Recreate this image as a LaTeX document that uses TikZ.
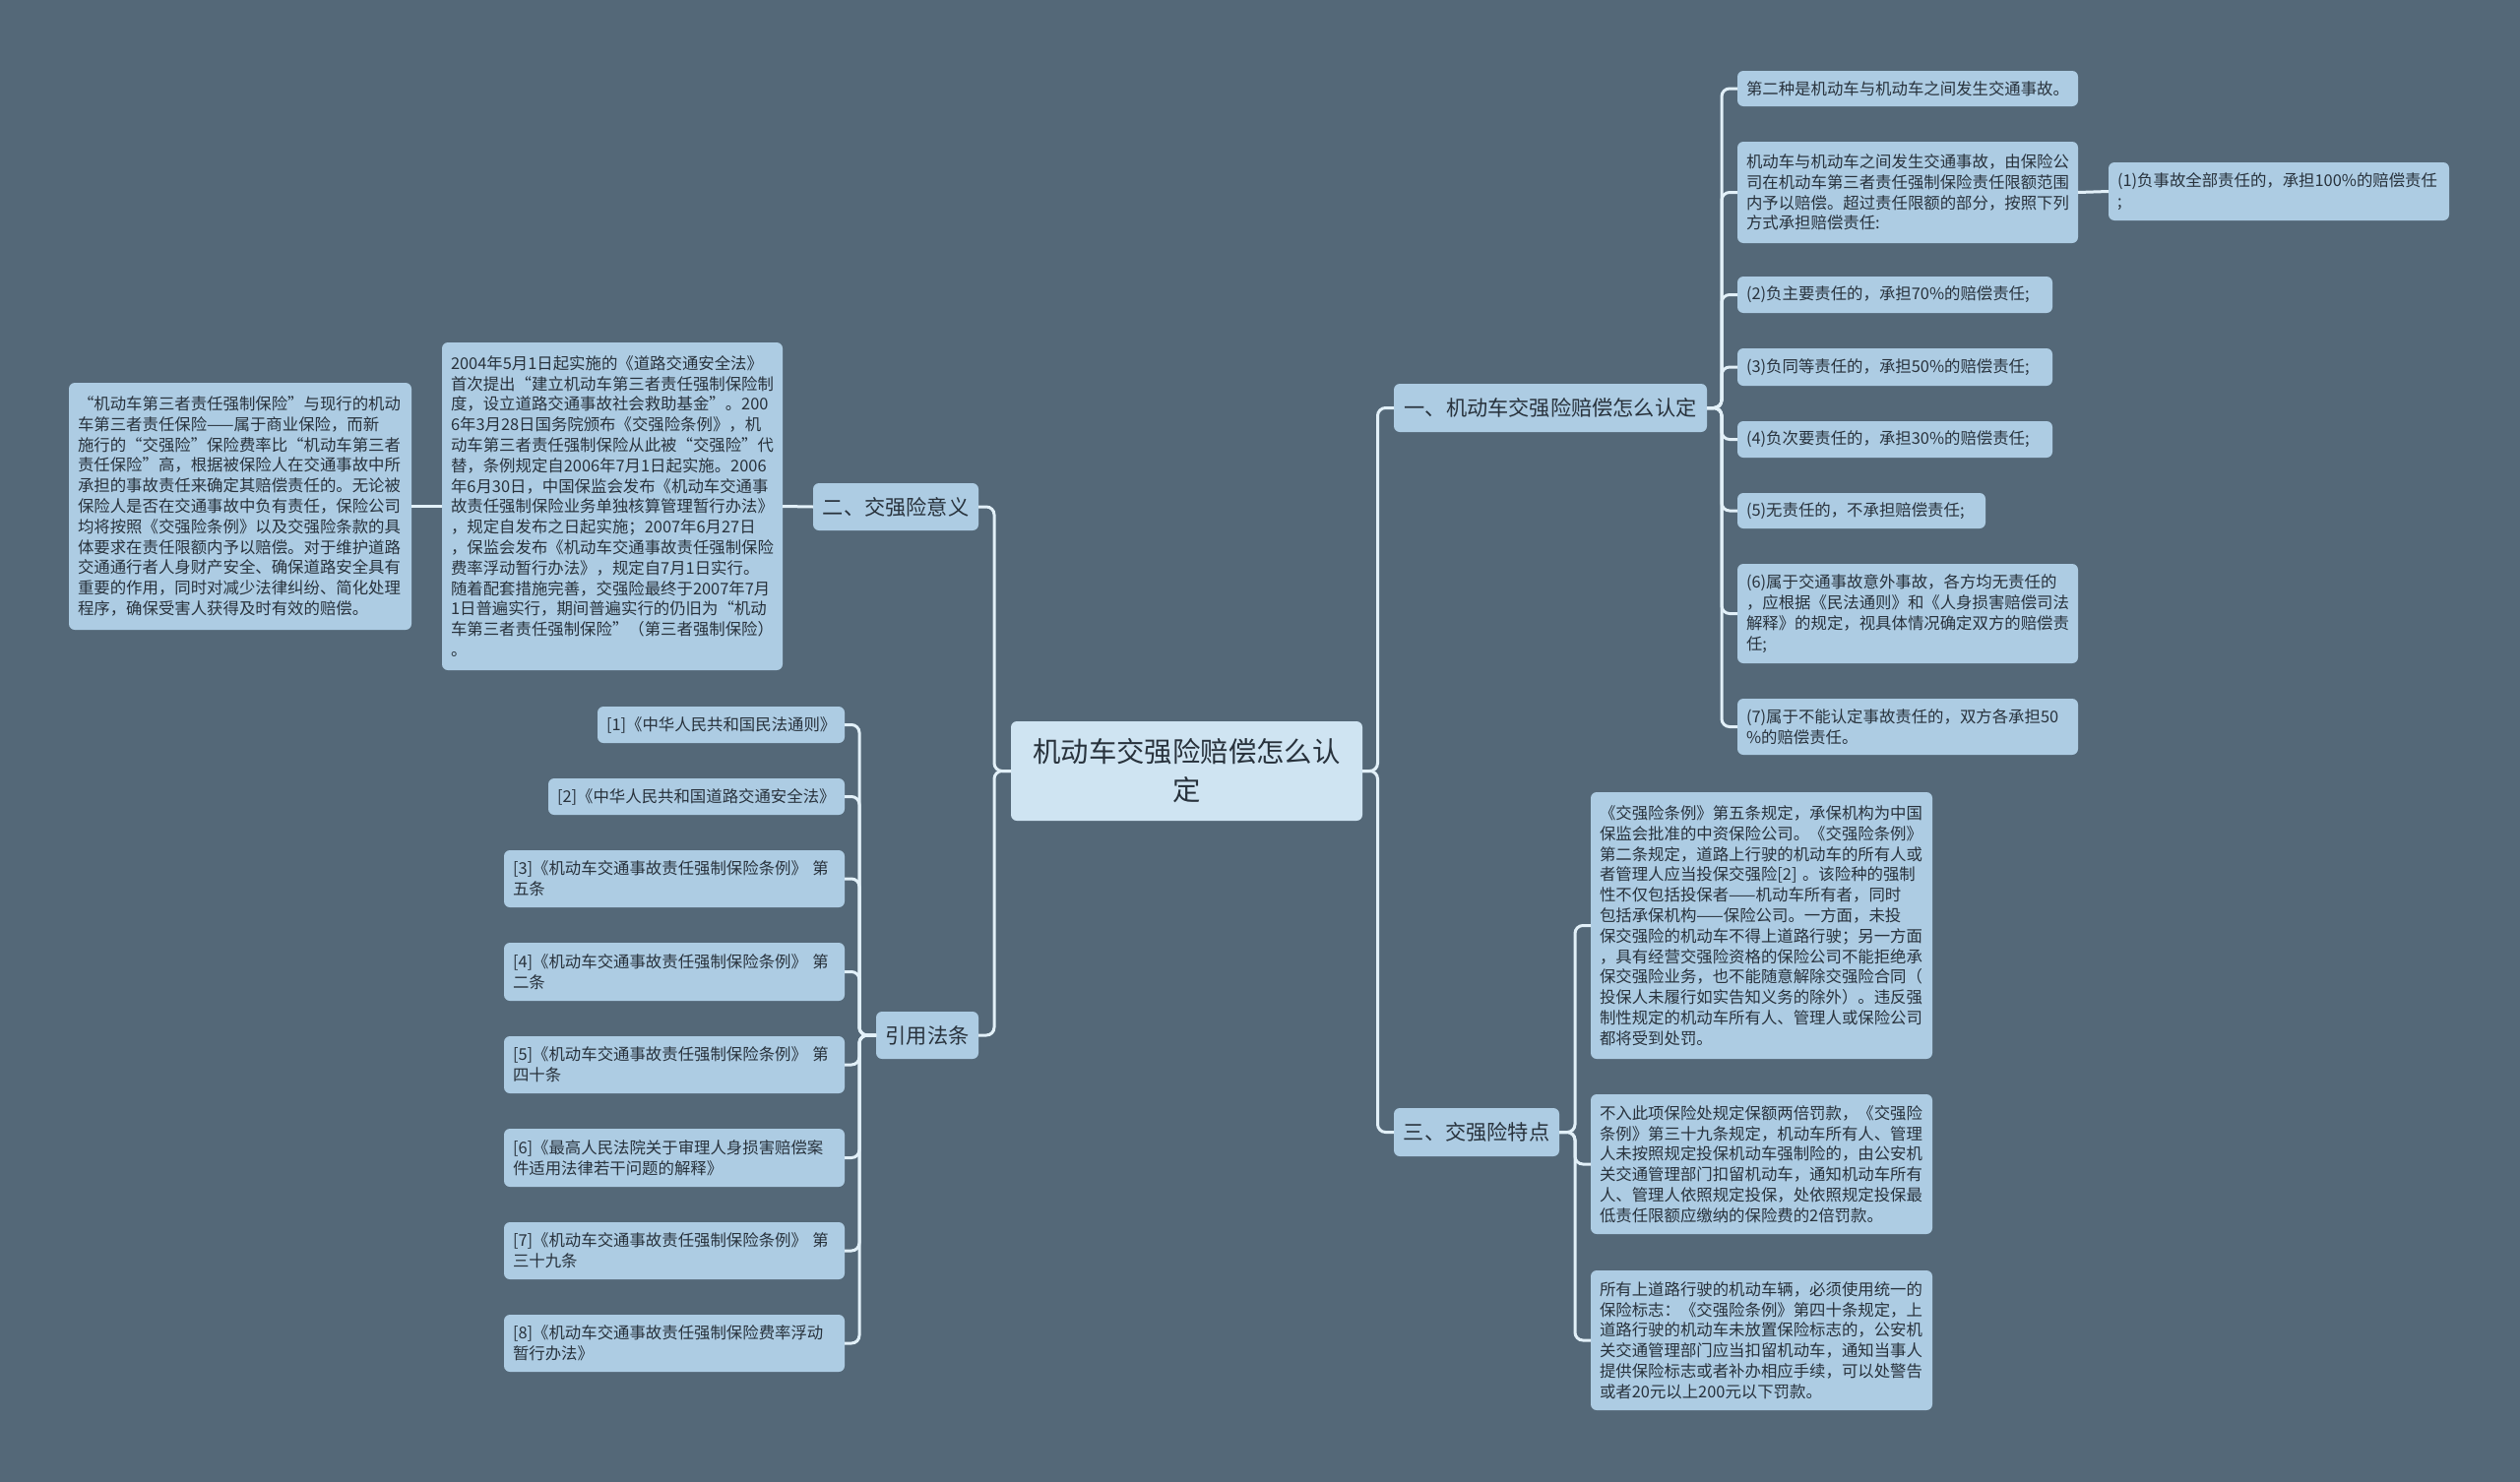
\documentclass[tikz,border=0pt]{standalone}
\usepackage{fontspec}
\setmainfont{Noto Sans CJK SC}
\definecolor{bgc}{RGB}{84,104,120}
\definecolor{leafc}{RGB}{173,204,227}
\definecolor{rootc}{RGB}{207,228,242}
\definecolor{linec}{RGB}{226,240,248}
\definecolor{txtc}{RGB}{40,50,60}
\begin{document}
\begin{tikzpicture}[x=0.5pt,y=-0.5pt,
  conn/.style={draw=linec,line width=1.5pt,rounded corners=4pt},
  box/.style={fill=leafc,rounded corners=3pt,outer sep=0pt,text=txtc,anchor=north west},
  leaf/.style={box,inner xsep=4.5pt,inner ysep=2pt,align=left,font=\fontsize{8.2}{10.4}\selectfont},
  branch/.style={box,inner sep=0pt,align=center,font=\fontsize{10.6}{13}\selectfont},
  rootbox/.style={box,fill=rootc,inner sep=0pt,align=center,text width=160pt,font=\fontsize{14.2}{19.5}\selectfont}]
\useasboundingbox (0,0) rectangle (2560,1505);
\fill[bgc] (-20,-20) rectangle (2580,1525);
% root
\node[rootbox,minimum width=178.5pt,minimum height=50.5pt] (root) at (1027,733) {机动车交强险赔偿怎么认\\定};
% branches
\node[branch,minimum width=159pt,minimum height=24.5pt] (b1) at (1416,390) {一、机动车交强险赔偿怎么认定};
\node[branch,minimum width=84pt,minimum height=24.5pt] (b3) at (1416,1126) {三、交强险特点};
\node[branch,minimum width=84pt,minimum height=24pt] (b2) at (826,491) {二、交强险意义};
\node[branch,minimum width=52pt,minimum height=24pt] (b4) at (890,1028) {引用法条};
% branch 1 children
\node[leaf,text width=164pt,minimum height=18pt] (c1) at (1765,72) {第二种是机动车与机动车之间发生交通事故。};
\node[leaf,text width=164pt,minimum height=51.5pt] (c2) at (1765,144) {机动车与机动车之间发生交通事故，由保险公\\司在机动车第三者责任强制保险责任限额范围\\内予以赔偿。超过责任限额的部分，按照下列\\方式承担赔偿责任:};
\node[leaf,text width=164pt,minimum height=29.5pt] (c2a) at (2142,165) {(1)负事故全部责任的，承担100\%的赔偿责任\\;};
\node[leaf,text width=151pt,minimum height=18.5pt] (c3) at (1765,281) {(2)负主要责任的，承担70\%的赔偿责任;};
\node[leaf,text width=151pt,minimum height=19pt] (c4) at (1765,354) {(3)负同等责任的，承担50\%的赔偿责任;};
\node[leaf,text width=151pt,minimum height=18.5pt] (c5) at (1765,428) {(4)负次要责任的，承担30\%的赔偿责任;};
\node[leaf,text width=117pt,minimum height=18pt] (c6) at (1765,501) {(5)无责任的，不承担赔偿责任;};
\node[leaf,text width=164pt,minimum height=50.5pt] (c7) at (1765,573) {(6)属于交通事故意外事故，各方均无责任的\\，应根据《民法通则》和《人身损害赔偿司法\\解释》的规定，视具体情况确定双方的赔偿责\\任;};
\node[leaf,text width=164pt,minimum height=28.5pt] (c8) at (1765,710) {(7)属于不能认定事故责任的，双方各承担50\\\%的赔偿责任。};
% branch 3 children
\node[leaf,text width=164.5pt,minimum height=135.5pt] (d1) at (1616,805) {《交强险条例》第五条规定，承保机构为中国\\保监会批准的中资保险公司。《交强险条例》\\第二条规定，道路上行驶的机动车的所有人或\\者管理人应当投保交强险[2] 。该险种的强制\\性不仅包括投保者——机动车所有者，同时\\包括承保机构——保险公司。一方面，未投\\保交强险的机动车不得上道路行驶；另一方面\\，具有经营交强险资格的保险公司不能拒绝承\\保交强险业务，也不能随意解除交强险合同（\\投保人未履行如实告知义务的除外）。违反强\\制性规定的机动车所有人、管理人或保险公司\\都将受到处罚。};
\node[leaf,text width=164.5pt,minimum height=71pt] (d2) at (1616,1112) {不入此项保险处规定保额两倍罚款，《交强险\\条例》第三十九条规定，机动车所有人、管理\\人未按照规定投保机动车强制险的，由公安机\\关交通管理部门扣留机动车，通知机动车所有\\人、管理人依照规定投保，处依照规定投保最\\低责任限额应缴纳的保险费的2倍罚款。};
\node[leaf,text width=164.5pt,minimum height=71pt] (d3) at (1616,1291) {所有上道路行驶的机动车辆，必须使用统一的\\保险标志：《交强险条例》第四十条规定，上\\道路行驶的机动车未放置保险标志的，公安机\\关交通管理部门应当扣留机动车，通知当事人\\提供保险标志或者补办相应手续，可以处警告\\或者20元以上200元以下罚款。};
% branch 2 children
\node[leaf,text width=164pt,minimum height=166.5pt] (e1) at (449,348) {2004年5月1日起实施的《道路交通安全法》\\首次提出“建立机动车第三者责任强制保险制\\度，设立道路交通事故社会救助基金”。200\\6年3月28日国务院颁布《交强险条例》，机\\动车第三者责任强制保险从此被“交强险”代\\替，条例规定自2006年7月1日起实施。2006\\年6月30日，中国保监会发布《机动车交通事\\故责任强制保险业务单独核算管理暂行办法》\\，规定自发布之日起实施；2007年6月27日\\，保监会发布《机动车交通事故责任强制保险\\费率浮动暂行办法》，规定自7月1日实行。\\随着配套措施完善，交强险最终于2007年7月\\1日普遍实行，期间普遍实行的仍旧为“机动\\车第三者责任强制保险”（第三者强制保险）\\。};
\node[leaf,text width=165pt,minimum height=125.5pt] (e2) at (70,389) {“机动车第三者责任强制保险”与现行的机动\\车第三者责任保险——属于商业保险，而新\\施行的“交强险”保险费率比“机动车第三者\\责任保险”高，根据被保险人在交通事故中所\\承担的事故责任来确定其赔偿责任的。无论被\\保险人是否在交通事故中负有责任，保险公司\\均将按照《交强险条例》以及交强险条款的具\\体要求在责任限额内予以赔偿。对于维护道路\\交通通行者人身财产安全、确保道路安全具有\\重要的作用，同时对减少法律纠纷、简化处理\\程序，确保受害人获得及时有效的赔偿。};
% references
\node[leaf,text width=116.5pt,minimum height=18.5pt] (r1) at (607,718) {[1]《中华人民共和国民法通则》};
\node[leaf,text width=141.5pt,minimum height=18.5pt] (r2) at (557,791) {[2]《中华人民共和国道路交通安全法》};
\node[leaf,text width=164pt,minimum height=29pt] (r3) at (512,864) {[3]《机动车交通事故责任强制保险条例》 第\\五条};
\node[leaf,text width=164pt,minimum height=29.5pt] (r4) at (512,958) {[4]《机动车交通事故责任强制保险条例》 第\\二条};
\node[leaf,text width=164pt,minimum height=29pt] (r5) at (512,1053) {[5]《机动车交通事故责任强制保险条例》 第\\四十条};
\node[leaf,text width=164pt,minimum height=29.5pt] (r6) at (512,1147) {[6]《最高人民法院关于审理人身损害赔偿案\\件适用法律若干问题的解释》};
\node[leaf,text width=164pt,minimum height=29pt] (r7) at (512,1242) {[7]《机动车交通事故责任强制保险条例》 第\\三十九条};
\node[leaf,text width=164pt,minimum height=29pt] (r8) at (512,1336) {[8]《机动车交通事故责任强制保险费率浮动\\暂行办法》};
% connectors: root
\foreach \t in {b1,b3} \draw[conn] (root.east) -- ++(15.5,0) |- (\t.west);
\foreach \t in {b2,b4} \draw[conn] (root.west) -- ++(-17,0) |- (\t.east);
% branch 1
\foreach \t in {c1,c2,c3,c4,c5,c6,c7,c8} \draw[conn] (b1.east) -- ++(15,0) |- (\t.west);
\draw[conn] (c2.east) -- (c2a.west);
% branch 3
\foreach \t in {d1,d2,d3} \draw[conn] (b3.east) -- ++(16,0) |- (\t.west);
% branch 2
\draw[conn] (b2.west) -- (e1.east);
\draw[conn] (e1.west) -- (e2.east);
% references
\foreach \t in {r1,r2,r3,r4,r5,r6,r7,r8} \draw[conn] (b4.west) -- ++(-17,0) |- (\t.east);
\end{tikzpicture}
\end{document}
